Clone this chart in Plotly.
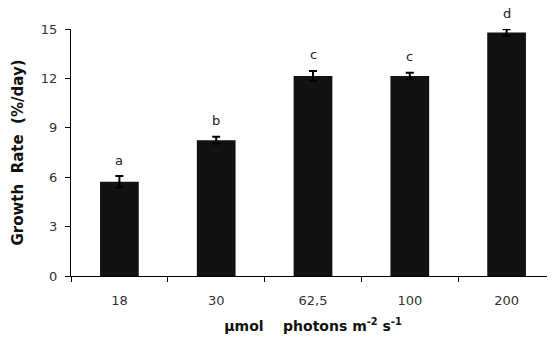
import plotly.graph_objects as go

categories = ["18", "30", "62,5", "100", "200"]
growth_rate = [5.72, 8.25, 12.15, 12.15, 14.78]
errors = [0.35, 0.2, 0.3, 0.2, 0.2]
letters = ["a", "b", "c", "c", "d"]
y_ticks = [0, 3, 6, 9, 12, 15]

FONT = "DejaVu Sans, Liberation Sans, Arial"

fig = go.Figure()
fig.add_trace(go.Bar(
    x=categories, y=growth_rate,
    marker=dict(color="#121212", line=dict(width=0)),
    error_y=dict(type="data", array=errors, visible=True, color="#000000",
                 thickness=2, width=4),
    showlegend=False,
))

for i, (v, e, t) in enumerate(zip(growth_rate, errors, letters)):
    fig.add_annotation(x=i, y=v + e, text=t, showarrow=False, yshift=16,
                       font=dict(family=FONT, size=13, color="#222222"))

# page body adds an 8px offset; figure sized to fill the remaining window
fig.update_layout(
    width=547, height=335,
    margin=dict(l=63, r=0, t=21, b=67),
    paper_bgcolor="white", plot_bgcolor="white",
    bargap=0.6,
    font=dict(family=FONT, size=13, color="#222222"),
)
fig.update_xaxes(
    type="category", categoryorder="array", categoryarray=categories,
    range=[-0.5, len(categories) - 0.5], automargin=False,
    showline=True, linecolor="#000000", linewidth=1,
    ticks="outside", ticklen=5, tickcolor="#000000", tickson="boundaries",
    ticklabelstandoff=12,
    showgrid=False, tickfont=dict(family=FONT, size=13, color="#333333"),
    title=dict(text="<b>µmol    photons m<sup>-2</sup> s<sup>-1</sup></b>",
               font=dict(family=FONT, size=14, color="#111111"), standoff=14),
)
fig.update_yaxes(
    range=[0, 15], tickvals=y_ticks, automargin=False,
    showline=True, linecolor="#000000", linewidth=1,
    ticks="outside", ticklen=5, tickcolor="#000000", showgrid=False, zeroline=False,
    ticklabelstandoff=5,
    tickfont=dict(family=FONT, size=13, color="#333333"),
    title=dict(text="<b>Growth  Rate  (%/day)</b>",
               font=dict(family=FONT, size=15, color="#111111"), standoff=13),
)

fig.write_html("out.html")
